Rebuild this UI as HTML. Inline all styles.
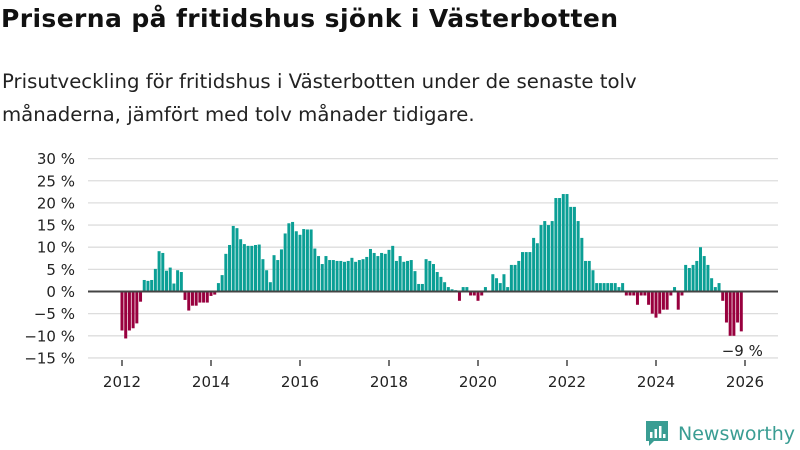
<!DOCTYPE html>
<html><head><meta charset="utf-8"><style>
body{margin:0;width:800px;height:450px;background:#fff;overflow:hidden;font-family:"DejaVu Sans",sans-serif;color:#111}
h1{position:absolute;left:1px;top:4px;margin:0;font-family:"DejaVu Sans",sans-serif;font-size:25px;font-weight:bold;letter-spacing:0.4px}
p{position:absolute;left:2px;top:65px;margin:0;font-family:"DejaVu Sans",sans-serif;font-size:19.7px;line-height:33px;color:#222}
svg{position:absolute;left:0;top:0}
</style></head><body>
<h1>Priserna på fritidshus sjönk i Västerbotten</h1>
<p>Prisutveckling för fritidshus i Västerbotten under de senaste tolv<br>månaderna, jämfört med tolv månader tidigare.</p>
<svg id="c" width="800" height="450"></svg>
<script>
const startYear = 2012;
const values = [
-8.8,-10.6,-8.8,-8.3,-7.2,-2.3,2.6,2.4,2.6,5.1,9.1,8.7,
4.7,5.4,1.8,4.8,4.4,-1.9,-4.3,-3.2,-3.2,-2.5,-2.5,-2.5,
-1.0,-0.7,1.9,3.7,8.5,10.5,14.8,14.3,11.8,10.7,10.3,10.3,
10.5,10.6,7.3,4.8,2.1,8.2,7.1,9.5,13.1,15.4,15.7,13.6,
12.8,14.1,14.0,14.0,9.7,8.0,6.2,8.0,7.1,7.1,6.9,6.9,
6.7,6.9,7.6,6.7,7.1,7.3,7.8,9.6,8.7,8.0,8.7,8.5,
9.4,10.3,6.9,8.0,6.7,6.9,7.1,4.6,1.7,1.7,7.3,6.9,
6.2,4.4,3.3,2.1,1.0,0.5,0.3,-2.1,1.0,1.0,-0.9,-0.9,
-2.1,-0.9,1.0,0,3.9,3.0,1.9,3.9,1.0,6.0,6.0,6.9,
8.9,8.9,8.9,12.1,10.9,15.0,15.9,15.0,15.9,21.1,21.1,22.0,
22.0,19.1,19.1,15.9,12.1,6.9,6.9,4.8,1.9,1.9,1.9,1.9,
1.9,1.9,1.0,1.9,-0.9,-0.9,-0.9,-3.0,-0.9,-0.9,-3.0,-5.0,
-5.9,-5.0,-4.1,-4.1,-0.9,1.0,-4.1,-0.9,6.0,5.3,6.0,6.9,
10,8,6,3,1,1.9,-2.1,-7,-10,-10,-7,-9];
const yTicks = [30,25,20,15,10,5,0,-5,-10,-15];
const xTicks = [2012,2014,2016,2018,2020,2022,2024,2026];
const lastLabel = "−9 %";

const svg=document.getElementById('c');const NS='http://www.w3.org/2000/svg';
const FONT='DejaVu Sans, sans-serif';
const y=v=>291.5-v*4.43;
const x=m=>122+m*(623/168);
function mk(t,a,p){const e=document.createElementNS(NS,t);for(const k in a)e.setAttribute(k,a[k]);(p||svg).appendChild(e);return e;}
yTicks.forEach(t=>{
  const l=mk('line',{x1:88,x2:778,y1:y(t),y2:y(t),stroke:t===0?'#444':'#ddd','stroke-width':t===0?2:1.3});
  
  
  const tx=mk('text',{x:75,y:y(t)+5.5,'text-anchor':'end','font-size':15,fill:'#222','font-family':FONT});
  tx.textContent=(t<0?'−'+(-t):t)+' %';
  
  
});
values.forEach((v,i)=>{
  const cx=x(i);const y0=y(0),y1=y(v);
  const r=mk('rect',{x:cx-1.5,width:3,y:Math.min(y0,y1),height:Math.abs(y1-y0),fill:v>=0?'#0b9f95':'#98003e'});
  
  
});
const z=mk('line',{x1:88,x2:778,y1:y(0),y2:y(0),stroke:'#444','stroke-width':2});


xTicks.forEach(t=>{
  const px=x((t-startYear)*12);
  const l=mk('line',{x1:px,x2:px,y1:360,y2:366,stroke:'#444','stroke-width':1.5});
  
  
  const tx=mk('text',{x:px,y:387,'text-anchor':'middle','font-size':15,fill:'#222','font-family':FONT});
  tx.textContent=t;
  
  
});
const lv=mk('text',{x:x(values.length-1)+1,y:356,'text-anchor':'middle','font-size':15,fill:'#222','font-family':FONT});
lv.textContent=lastLabel;


const g=mk('g',{});


mk('path',{d:'M646 421h22v20h-14l-5 5v-5h-3z',fill:'#3a9d93'},g);
mk('rect',{x:650,y:432,width:2.5,height:6,fill:'#fff'},g);
mk('rect',{x:654.5,y:429,width:2.5,height:9,fill:'#fff'},g);
mk('rect',{x:659,y:426,width:2.5,height:12,fill:'#fff'},g);
mk('rect',{x:663,y:434,width:2.5,height:4,fill:'#fff'},g);
const lt=mk('text',{x:678,y:440,'font-size':19,fill:'#3a9d93','font-family':FONT},g);
lt.textContent='Newsworthy';
</script>
</body></html>
